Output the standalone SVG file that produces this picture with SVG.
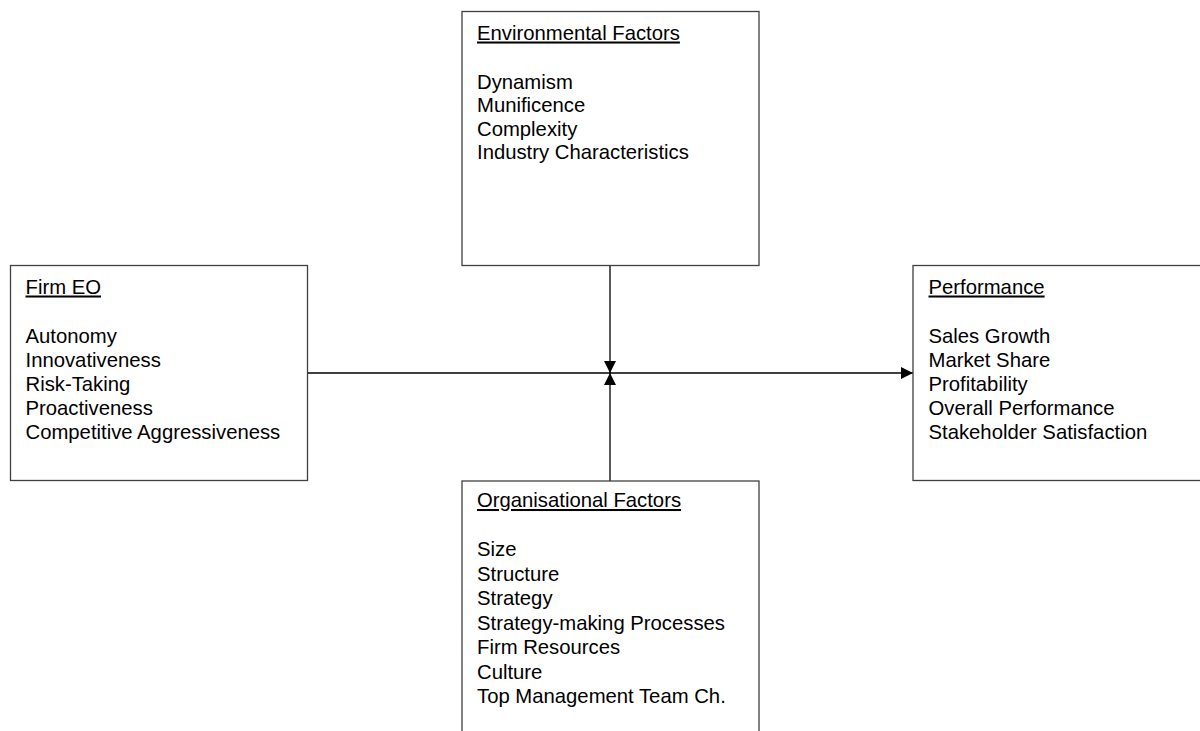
<svg xmlns="http://www.w3.org/2000/svg" width="1200" height="731" viewBox="0 0 1200 731">
<style>
.box{fill:#ffffff;stroke:#404040;stroke-width:1.3}
.t{font-family:"Liberation Sans",Arial,sans-serif;font-size:20.3px;fill:#000000}
.h{text-decoration:underline}
.ln{stroke:#000000;stroke-width:1.3;fill:none}
</style>
<defs>
<marker id="ah" viewBox="0 0 12 12" refX="12" refY="6" markerWidth="12" markerHeight="12" markerUnits="userSpaceOnUse" orient="auto">
<path d="M0,0 L12,6 L0,12 Z" fill="#000000"/>
</marker>
</defs>
<rect width="1200" height="731" fill="#ffffff"/>
<g id="connectors">
<line class="ln" x1="308" y1="373" x2="913" y2="373" marker-end="url(#ah)"/>
<line class="ln" x1="610" y1="265.5" x2="610" y2="373" marker-end="url(#ah)"/>
<line class="ln" x1="610" y1="481" x2="610" y2="373" marker-end="url(#ah)"/>
</g>
<g id="env">
<rect class="box" x="462" y="11.5" width="297" height="254"/>
<text class="t h" x="477" y="39.5">Environmental Factors</text>
<text class="t" x="477" y="88.5">Dynamism</text>
<text class="t" x="477" y="112">Munificence</text>
<text class="t" x="477" y="135.5">Complexity</text>
<text class="t" x="477" y="159">Industry Characteristics</text>
</g>
<g id="firm">
<rect class="box" x="10.5" y="265.5" width="297" height="215"/>
<text class="t h" x="25.5" y="293.5">Firm EO</text>
<text class="t" x="25.5" y="342.5">Autonomy</text>
<text class="t" x="25.5" y="366.5">Innovativeness</text>
<text class="t" x="25.5" y="390.5">Risk-Taking</text>
<text class="t" x="25.5" y="414.5">Proactiveness</text>
<text class="t" x="25.5" y="438.5">Competitive Aggressiveness</text>
</g>
<g id="perf">
<rect class="box" x="913" y="265.5" width="297" height="215"/>
<text class="t h" x="928.5" y="293.5">Performance</text>
<text class="t" x="928.5" y="342.5">Sales Growth</text>
<text class="t" x="928.5" y="366.5">Market Share</text>
<text class="t" x="928.5" y="390.5">Profitability</text>
<text class="t" x="928.5" y="414.5">Overall Performance</text>
<text class="t" x="928.5" y="438.5">Stakeholder Satisfaction</text>
</g>
<g id="org">
<rect class="box" x="462" y="481" width="297" height="260"/>
<text class="t h" x="477" y="507">Organisational Factors</text>
<text class="t" x="477" y="556">Size</text>
<text class="t" x="477" y="580.5">Structure</text>
<text class="t" x="477" y="605">Strategy</text>
<text class="t" x="477" y="629.5">Strategy-making Processes</text>
<text class="t" x="477" y="654">Firm Resources</text>
<text class="t" x="477" y="678.5">Culture</text>
<text class="t" x="477" y="703">Top Management Team Ch.</text>
</g>
</svg>
